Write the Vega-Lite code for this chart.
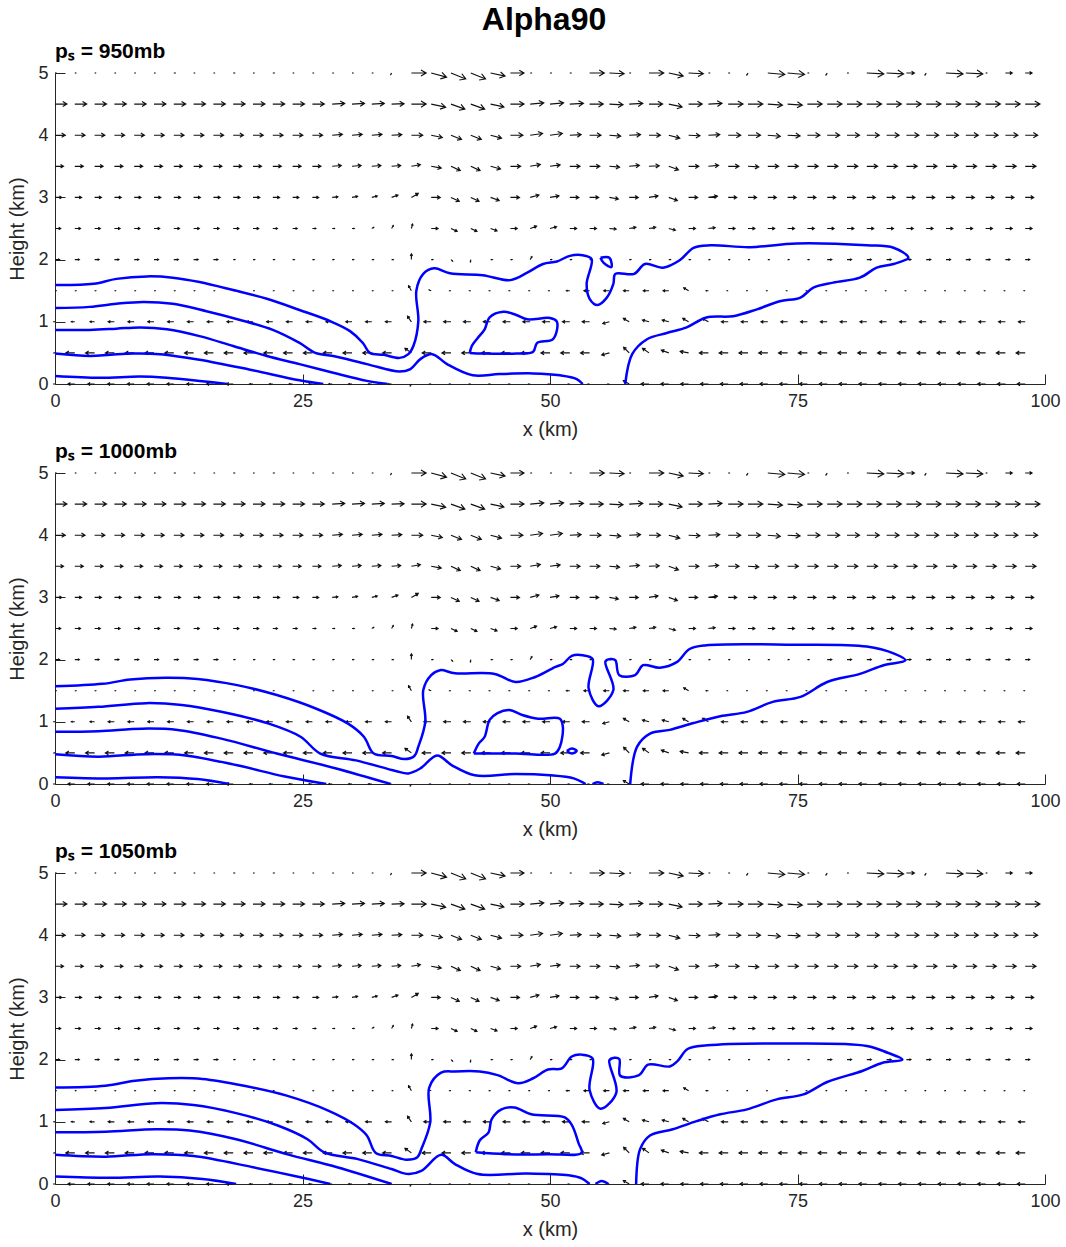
{
"$schema": "https://vega.github.io/schema/vega-lite/v6.json",
"background": "white",
"padding": {"left": 7, "top": 4, "right": 10, "bottom": 4},
"title": {"text": "Alpha90", "fontSize": 32, "fontWeight": "bold", "font": "Liberation Sans", "color": "black", "anchor": "middle", "offset": 4, "dx": 10},
"config": {
  "view": {"stroke": null},
  "font": "Liberation Sans",
  "concat": {"spacing": 2},
  "axis": {"grid": false, "domainColor": "#262626", "tickColor": "#262626", "labelColor": "#262626", "titleColor": "#262626", "labelFont": "Liberation Sans", "titleFont": "Liberation Sans", "labelFontSize": 18, "titleFontSize": 20, "titleFontWeight": "normal", "tickSize": -10, "labelFlush": false, "domainWidth": 1},
  "axisX": {"labelPadding": 18, "titlePadding": 9},
  "axisY": {"labelPadding": 17, "titlePadding": 10},
  "title": {"font": "Liberation Sans", "color": "black"}
},
"datasets": {
"q": [
{"x":0,"z":5,"s":0.8,"d":0},{"x":2,"z":5,"s":0.8,"d":0},{"x":4,"z":5,"s":0.8,"d":0},{"x":6,"z":5,"s":0.8,"d":0},{"x":8,"z":5,"s":0.8,"d":0},{"x":10,"z":5,"s":0.8,"d":0},{"x":12,"z":5,"s":1.2,"d":0},{"x":14,"z":5,"s":0.8,"d":0},{"x":16,"z":5,"s":0.8,"d":0},{"x":18,"z":5,"s":1.2,"d":0},{"x":20,"z":5,"s":0.8,"d":0},{"x":22,"z":5,"s":1.2,"d":0},{"x":24,"z":5,"s":0.8,"d":0},{"x":26,"z":5,"s":0.8,"d":0},{"x":28,"z":5,"s":0.8,"d":0},{"x":30,"z":5,"s":0.8,"d":0},{"x":32,"z":5,"s":0.8,"d":0},{"x":34,"z":5,"s":1.5,"d":120},{"x":36,"z":5,"s":13,"d":0},{"x":38,"z":5,"s":14,"d":15},{"x":40,"z":5,"s":14,"d":22},{"x":42,"z":5,"s":14,"d":22},{"x":44,"z":5,"s":13,"d":12},{"x":46,"z":5,"s":12,"d":0},{"x":48,"z":5,"s":1,"d":0},{"x":50,"z":5,"s":1,"d":0},{"x":52,"z":5,"s":1,"d":0},{"x":54,"z":5,"s":13,"d":0},{"x":56,"z":5,"s":13,"d":3},{"x":58,"z":5,"s":1,"d":0},{"x":60,"z":5,"s":13,"d":0},{"x":62,"z":5,"s":13,"d":12},{"x":64,"z":5,"s":13,"d":3},{"x":66,"z":5,"s":1,"d":0},{"x":68,"z":5,"s":1,"d":0},{"x":70,"z":5,"s":2,"d":120},{"x":72,"z":5,"s":15,"d":5},{"x":74,"z":5,"s":15,"d":5},{"x":76,"z":5,"s":1,"d":0},{"x":78,"z":5,"s":2,"d":120},{"x":80,"z":5,"s":1,"d":0},{"x":82,"z":5,"s":15,"d":3},{"x":84,"z":5,"s":15,"d":3},{"x":86,"z":5,"s":7,"d":0},{"x":88,"z":5,"s":2,"d":120},{"x":90,"z":5,"s":15,"d":3},{"x":92,"z":5,"s":15,"d":3},{"x":94,"z":5,"s":1,"d":0},{"x":96,"z":5,"s":6,"d":0},{"x":98,"z":5,"s":6,"d":0},
{"x":0,"z":4.5,"s":10.5,"d":0},{"x":2,"z":4.5,"s":10.5,"d":0},{"x":4,"z":4.5,"s":10.5,"d":0},{"x":6,"z":4.5,"s":10.5,"d":0},{"x":8,"z":4.5,"s":10.5,"d":0},{"x":10,"z":4.5,"s":10.5,"d":0},{"x":12,"z":4.5,"s":10.5,"d":0},{"x":14,"z":4.5,"s":10.5,"d":0},{"x":16,"z":4.5,"s":10.5,"d":0},{"x":18,"z":4.5,"s":10.5,"d":0},{"x":20,"z":4.5,"s":10.5,"d":0},{"x":22,"z":4.5,"s":10.5,"d":0},{"x":24,"z":4.5,"s":10.5,"d":0},{"x":26,"z":4.5,"s":10.5,"d":0},{"x":28,"z":4.5,"s":11,"d":-3},{"x":30,"z":4.5,"s":11,"d":-3},{"x":32,"z":4.5,"s":11,"d":-3},{"x":34,"z":4.5,"s":11,"d":-2},{"x":36,"z":4.5,"s":13,"d":0},{"x":38,"z":4.5,"s":13,"d":12},{"x":40,"z":4.5,"s":13,"d":20},{"x":42,"z":4.5,"s":13,"d":20},{"x":44,"z":4.5,"s":12,"d":12},{"x":46,"z":4.5,"s":12,"d":0},{"x":48,"z":4.5,"s":12,"d":-5},{"x":50,"z":4.5,"s":12,"d":-5},{"x":52,"z":4.5,"s":12,"d":-3},{"x":54,"z":4.5,"s":12,"d":0},{"x":56,"z":4.5,"s":12,"d":3},{"x":58,"z":4.5,"s":12,"d":-3},{"x":60,"z":4.5,"s":12,"d":0},{"x":62,"z":4.5,"s":12,"d":12},{"x":64,"z":4.5,"s":12,"d":0},{"x":66,"z":4.5,"s":12,"d":-3},{"x":68,"z":4.5,"s":13,"d":0},{"x":70,"z":4.5,"s":13,"d":0},{"x":72,"z":4.5,"s":13,"d":4},{"x":74,"z":4.5,"s":13,"d":4},{"x":76,"z":4.5,"s":13,"d":0},{"x":78,"z":4.5,"s":13,"d":0},{"x":80,"z":4.5,"s":13,"d":0},{"x":82,"z":4.5,"s":13,"d":0},{"x":84,"z":4.5,"s":13,"d":0},{"x":86,"z":4.5,"s":13,"d":0},{"x":88,"z":4.5,"s":13,"d":0},{"x":90,"z":4.5,"s":13,"d":0},{"x":92,"z":4.5,"s":13,"d":0},{"x":94,"z":4.5,"s":13,"d":0},{"x":96,"z":4.5,"s":13,"d":0},{"x":98,"z":4.5,"s":13,"d":0},
{"x":0,"z":4,"s":9,"d":0},{"x":2,"z":4,"s":9,"d":0},{"x":4,"z":4,"s":9,"d":0},{"x":6,"z":4,"s":9,"d":0},{"x":8,"z":4,"s":9,"d":0},{"x":10,"z":4,"s":9,"d":0},{"x":12,"z":4,"s":9,"d":0},{"x":14,"z":4,"s":9,"d":0},{"x":16,"z":4,"s":9,"d":0},{"x":18,"z":4,"s":9,"d":0},{"x":20,"z":4,"s":9,"d":0},{"x":22,"z":4,"s":9,"d":0},{"x":24,"z":4,"s":9,"d":0},{"x":26,"z":4,"s":9,"d":0},{"x":28,"z":4,"s":9,"d":-5},{"x":30,"z":4,"s":9,"d":-5},{"x":32,"z":4,"s":9,"d":-5},{"x":34,"z":4,"s":9,"d":-3},{"x":36,"z":4,"s":10,"d":0},{"x":38,"z":4,"s":10,"d":12},{"x":40,"z":4,"s":10,"d":22},{"x":42,"z":4,"s":10,"d":22},{"x":44,"z":4,"s":10,"d":15},{"x":46,"z":4,"s":11,"d":0},{"x":48,"z":4,"s":11,"d":-8},{"x":50,"z":4,"s":11,"d":-8},{"x":52,"z":4,"s":10,"d":-3},{"x":54,"z":4,"s":10,"d":0},{"x":56,"z":4,"s":10,"d":5},{"x":58,"z":4,"s":10,"d":-3},{"x":60,"z":4,"s":10,"d":0},{"x":62,"z":4,"s":10,"d":15},{"x":64,"z":4,"s":10,"d":3},{"x":66,"z":4,"s":10,"d":-3},{"x":68,"z":4,"s":11,"d":0},{"x":70,"z":4,"s":11,"d":0},{"x":72,"z":4,"s":11,"d":5},{"x":74,"z":4,"s":11,"d":3},{"x":76,"z":4,"s":11,"d":0},{"x":78,"z":4,"s":11,"d":0},{"x":80,"z":4,"s":11,"d":0},{"x":82,"z":4,"s":11,"d":0},{"x":84,"z":4,"s":11,"d":0},{"x":86,"z":4,"s":11,"d":0},{"x":88,"z":4,"s":11,"d":0},{"x":90,"z":4,"s":11,"d":0},{"x":92,"z":4,"s":11,"d":0},{"x":94,"z":4,"s":11,"d":0},{"x":96,"z":4,"s":11,"d":0},{"x":98,"z":4,"s":11,"d":0},
{"x":0,"z":3.5,"s":7.5,"d":0},{"x":2,"z":3.5,"s":7.5,"d":0},{"x":4,"z":3.5,"s":7.5,"d":0},{"x":6,"z":3.5,"s":7.5,"d":0},{"x":8,"z":3.5,"s":7.5,"d":0},{"x":10,"z":3.5,"s":7.5,"d":0},{"x":12,"z":3.5,"s":7.5,"d":0},{"x":14,"z":3.5,"s":7.5,"d":0},{"x":16,"z":3.5,"s":7.5,"d":0},{"x":18,"z":3.5,"s":7.5,"d":0},{"x":20,"z":3.5,"s":7.5,"d":0},{"x":22,"z":3.5,"s":7.5,"d":0},{"x":24,"z":3.5,"s":7.5,"d":0},{"x":26,"z":3.5,"s":7.5,"d":0},{"x":28,"z":3.5,"s":8,"d":-5},{"x":30,"z":3.5,"s":8,"d":-5},{"x":32,"z":3.5,"s":8,"d":-5},{"x":34,"z":3.5,"s":8,"d":-5},{"x":36,"z":3.5,"s":8,"d":-10},{"x":38,"z":3.5,"s":9,"d":10},{"x":40,"z":3.5,"s":9,"d":25},{"x":42,"z":3.5,"s":9,"d":25},{"x":44,"z":3.5,"s":9,"d":15},{"x":46,"z":3.5,"s":9,"d":0},{"x":48,"z":3.5,"s":9,"d":-10},{"x":50,"z":3.5,"s":9,"d":-8},{"x":52,"z":3.5,"s":9,"d":0},{"x":54,"z":3.5,"s":9,"d":0},{"x":56,"z":3.5,"s":9,"d":5},{"x":58,"z":3.5,"s":9,"d":-5},{"x":60,"z":3.5,"s":9,"d":-3},{"x":62,"z":3.5,"s":9,"d":20},{"x":64,"z":3.5,"s":9,"d":0},{"x":66,"z":3.5,"s":9,"d":-5},{"x":68,"z":3.5,"s":9.5,"d":0},{"x":70,"z":3.5,"s":9.5,"d":3},{"x":72,"z":3.5,"s":9.5,"d":0},{"x":74,"z":3.5,"s":9.5,"d":0},{"x":76,"z":3.5,"s":9.5,"d":0},{"x":78,"z":3.5,"s":9.5,"d":0},{"x":80,"z":3.5,"s":9.5,"d":0},{"x":82,"z":3.5,"s":9.5,"d":0},{"x":84,"z":3.5,"s":9.5,"d":0},{"x":86,"z":3.5,"s":9.5,"d":0},{"x":88,"z":3.5,"s":9.5,"d":0},{"x":90,"z":3.5,"s":9.5,"d":0},{"x":92,"z":3.5,"s":9.5,"d":0},{"x":94,"z":3.5,"s":9.5,"d":0},{"x":96,"z":3.5,"s":9.5,"d":0},{"x":98,"z":3.5,"s":9.5,"d":0},
{"x":0,"z":3,"s":6,"d":0},{"x":2,"z":3,"s":6,"d":0},{"x":4,"z":3,"s":6,"d":0},{"x":6,"z":3,"s":6,"d":0},{"x":8,"z":3,"s":6,"d":0},{"x":10,"z":3,"s":6,"d":0},{"x":12,"z":3,"s":6,"d":0},{"x":14,"z":3,"s":6,"d":0},{"x":16,"z":3,"s":6,"d":0},{"x":18,"z":3,"s":6,"d":0},{"x":20,"z":3,"s":6,"d":0},{"x":22,"z":3,"s":6,"d":0},{"x":24,"z":3,"s":5.5,"d":0},{"x":26,"z":3,"s":5.5,"d":0},{"x":28,"z":3,"s":5,"d":-5},{"x":30,"z":3,"s":5,"d":-10},{"x":32,"z":3,"s":5,"d":-15},{"x":34,"z":3,"s":6,"d":-20},{"x":36,"z":3,"s":7,"d":-30},{"x":38,"z":3,"s":8,"d":0},{"x":40,"z":3,"s":8,"d":25},{"x":42,"z":3,"s":8,"d":25},{"x":44,"z":3,"s":8,"d":20},{"x":46,"z":3,"s":8,"d":0},{"x":48,"z":3,"s":8,"d":-15},{"x":50,"z":3,"s":8,"d":-10},{"x":52,"z":3,"s":8,"d":0},{"x":54,"z":3,"s":8,"d":0},{"x":56,"z":3,"s":8,"d":10},{"x":58,"z":3,"s":8,"d":0},{"x":60,"z":3,"s":8,"d":-10},{"x":62,"z":3,"s":8,"d":20},{"x":64,"z":3,"s":8,"d":0},{"x":66,"z":3,"s":8,"d":-8},{"x":68,"z":3,"s":7.5,"d":0},{"x":70,"z":3,"s":7.5,"d":0},{"x":72,"z":3,"s":7.5,"d":0},{"x":74,"z":3,"s":7.5,"d":0},{"x":76,"z":3,"s":7.5,"d":0},{"x":78,"z":3,"s":7.5,"d":0},{"x":80,"z":3,"s":7.5,"d":0},{"x":82,"z":3,"s":7.5,"d":0},{"x":84,"z":3,"s":7.5,"d":0},{"x":86,"z":3,"s":7.5,"d":0},{"x":88,"z":3,"s":7.5,"d":0},{"x":90,"z":3,"s":7.5,"d":0},{"x":92,"z":3,"s":7.5,"d":0},{"x":94,"z":3,"s":7.5,"d":0},{"x":96,"z":3,"s":7.5,"d":0},{"x":98,"z":3,"s":7.5,"d":0},
{"x":0,"z":2.5,"s":5,"d":0},{"x":2,"z":2.5,"s":5,"d":0},{"x":4,"z":2.5,"s":5,"d":0},{"x":6,"z":2.5,"s":5,"d":0},{"x":8,"z":2.5,"s":5,"d":0},{"x":10,"z":2.5,"s":5,"d":0},{"x":12,"z":2.5,"s":5,"d":0},{"x":14,"z":2.5,"s":5,"d":0},{"x":16,"z":2.5,"s":5,"d":0},{"x":18,"z":2.5,"s":5,"d":0},{"x":20,"z":2.5,"s":5,"d":0},{"x":22,"z":2.5,"s":4,"d":0},{"x":24,"z":2.5,"s":4,"d":0},{"x":26,"z":2.5,"s":3,"d":0},{"x":28,"z":2.5,"s":2,"d":0},{"x":30,"z":2.5,"s":2,"d":0},{"x":32,"z":2.5,"s":2,"d":-30},{"x":34,"z":2.5,"s":3,"d":-60},{"x":36,"z":2.5,"s":4,"d":-75},{"x":38,"z":2.5,"s":6,"d":0},{"x":40,"z":2.5,"s":6,"d":25},{"x":42,"z":2.5,"s":6,"d":25},{"x":44,"z":2.5,"s":6,"d":20},{"x":46,"z":2.5,"s":6,"d":0},{"x":48,"z":2.5,"s":6,"d":-20},{"x":50,"z":2.5,"s":6,"d":-15},{"x":52,"z":2.5,"s":6,"d":0},{"x":54,"z":2.5,"s":6,"d":0},{"x":56,"z":2.5,"s":6,"d":5},{"x":58,"z":2.5,"s":6,"d":-10},{"x":60,"z":2.5,"s":6,"d":-10},{"x":62,"z":2.5,"s":6,"d":15},{"x":64,"z":2.5,"s":6,"d":0},{"x":66,"z":2.5,"s":6,"d":-8},{"x":68,"z":2.5,"s":6,"d":0},{"x":70,"z":2.5,"s":6,"d":0},{"x":72,"z":2.5,"s":6,"d":0},{"x":74,"z":2.5,"s":6,"d":0},{"x":76,"z":2.5,"s":6,"d":0},{"x":78,"z":2.5,"s":6,"d":0},{"x":80,"z":2.5,"s":6,"d":0},{"x":82,"z":2.5,"s":6,"d":0},{"x":84,"z":2.5,"s":6,"d":0},{"x":86,"z":2.5,"s":6,"d":0},{"x":88,"z":2.5,"s":6,"d":0},{"x":90,"z":2.5,"s":6,"d":0},{"x":92,"z":2.5,"s":6,"d":0},{"x":94,"z":2.5,"s":6,"d":0},{"x":96,"z":2.5,"s":6,"d":0},{"x":98,"z":2.5,"s":6,"d":0},
{"x":0,"z":2,"s":4,"d":0},{"x":2,"z":2,"s":4,"d":0},{"x":4,"z":2,"s":4,"d":0},{"x":6,"z":2,"s":4,"d":0},{"x":8,"z":2,"s":4,"d":0},{"x":10,"z":2,"s":4,"d":0},{"x":12,"z":2,"s":4,"d":0},{"x":14,"z":2,"s":4,"d":0},{"x":16,"z":2,"s":4,"d":0},{"x":18,"z":2,"s":1.5,"d":0},{"x":20,"z":2,"s":1.5,"d":0},{"x":22,"z":2,"s":1.5,"d":0},{"x":24,"z":2,"s":1.5,"d":0},{"x":26,"z":2,"s":1.5,"d":0},{"x":28,"z":2,"s":1.5,"d":0},{"x":30,"z":2,"s":1.5,"d":0},{"x":32,"z":2,"s":1.5,"d":0},{"x":34,"z":2,"s":1.5,"d":0},{"x":36,"z":2,"s":5,"d":-90},{"x":38,"z":2,"s":1.5,"d":0},{"x":40,"z":2,"s":2,"d":45},{"x":42,"z":2,"s":2,"d":100},{"x":44,"z":2,"s":1.5,"d":0},{"x":46,"z":2,"s":1.5,"d":0},{"x":48,"z":2,"s":3,"d":-60},{"x":50,"z":2,"s":1.5,"d":0},{"x":52,"z":2,"s":1.5,"d":0},{"x":54,"z":2,"s":1.5,"d":0},{"x":56,"z":2,"s":1.5,"d":0},{"x":58,"z":2,"s":1.5,"d":0},{"x":60,"z":2,"s":1.5,"d":0},{"x":62,"z":2,"s":1.5,"d":0},{"x":64,"z":2,"s":1.5,"d":0},{"x":66,"z":2,"s":1.2,"d":0},{"x":68,"z":2,"s":1.2,"d":0},{"x":70,"z":2,"s":1.2,"d":0},{"x":72,"z":2,"s":1.2,"d":0},{"x":74,"z":2,"s":1.2,"d":0},{"x":76,"z":2,"s":1.5,"d":0},{"x":78,"z":2,"s":4,"d":0},{"x":80,"z":2,"s":4,"d":0},{"x":82,"z":2,"s":4,"d":0},{"x":84,"z":2,"s":4,"d":0},{"x":86,"z":2,"s":4,"d":0},{"x":88,"z":2,"s":4,"d":0},{"x":90,"z":2,"s":4,"d":0},{"x":92,"z":2,"s":4,"d":0},{"x":94,"z":2,"s":4,"d":0},{"x":96,"z":2,"s":4,"d":0},{"x":98,"z":2,"s":4,"d":0},
{"x":0,"z":1.5,"s":1,"d":0},{"x":2,"z":1.5,"s":1,"d":0},{"x":4,"z":1.5,"s":1,"d":0},{"x":6,"z":1.5,"s":1,"d":0},{"x":8,"z":1.5,"s":1,"d":0},{"x":10,"z":1.5,"s":1,"d":0},{"x":12,"z":1.5,"s":1,"d":0},{"x":14,"z":1.5,"s":1,"d":0},{"x":16,"z":1.5,"s":1,"d":0},{"x":18,"z":1.5,"s":1,"d":0},{"x":20,"z":1.5,"s":1,"d":0},{"x":22,"z":1.5,"s":1,"d":0},{"x":24,"z":1.5,"s":1,"d":0},{"x":26,"z":1.5,"s":1,"d":0},{"x":28,"z":1.5,"s":1,"d":0},{"x":30,"z":1.5,"s":1,"d":0},{"x":32,"z":1.5,"s":1,"d":0},{"x":34,"z":1.5,"s":1,"d":0},{"x":36,"z":1.5,"s":5,"d":240},{"x":38,"z":1.5,"s":2,"d":200},{"x":40,"z":1.5,"s":1.2,"d":180},{"x":42,"z":1.5,"s":1.2,"d":180},{"x":44,"z":1.5,"s":1.2,"d":180},{"x":46,"z":1.5,"s":1.2,"d":180},{"x":48,"z":1.5,"s":1.2,"d":180},{"x":50,"z":1.5,"s":1.2,"d":180},{"x":52,"z":1.5,"s":3,"d":180},{"x":54,"z":1.5,"s":5,"d":180},{"x":56,"z":1.5,"s":5,"d":180},{"x":58,"z":1.5,"s":5,"d":180},{"x":60,"z":1.5,"s":5,"d":180},{"x":62,"z":1.5,"s":5,"d":180},{"x":64,"z":1.5,"s":5,"d":210},{"x":66,"z":1.5,"s":2,"d":180},{"x":68,"z":1.5,"s":1,"d":180},{"x":70,"z":1.5,"s":1,"d":180},{"x":72,"z":1.5,"s":1,"d":180},{"x":74,"z":1.5,"s":1,"d":180},{"x":76,"z":1.5,"s":1,"d":180},{"x":78,"z":1.5,"s":1,"d":180},{"x":80,"z":1.5,"s":1,"d":180},{"x":82,"z":1.5,"s":1,"d":180},{"x":84,"z":1.5,"s":1,"d":180},{"x":86,"z":1.5,"s":1,"d":180},{"x":88,"z":1.5,"s":1,"d":180},{"x":90,"z":1.5,"s":1,"d":180},{"x":92,"z":1.5,"s":1,"d":180},{"x":94,"z":1.5,"s":1,"d":180},{"x":96,"z":1.5,"s":1,"d":180},{"x":98,"z":1.5,"s":1,"d":180},
{"x":0,"z":1,"s":1,"d":180},{"x":2,"z":1,"s":3,"d":180},{"x":4,"z":1,"s":4,"d":180},{"x":6,"z":1,"s":5.5,"d":180},{"x":8,"z":1,"s":5.5,"d":180},{"x":10,"z":1,"s":5.5,"d":180},{"x":12,"z":1,"s":5.5,"d":180},{"x":14,"z":1,"s":5.5,"d":180},{"x":16,"z":1,"s":5.5,"d":180},{"x":18,"z":1,"s":5.5,"d":180},{"x":20,"z":1,"s":5.5,"d":180},{"x":22,"z":1,"s":5.5,"d":180},{"x":24,"z":1,"s":5.5,"d":180},{"x":26,"z":1,"s":5.5,"d":180},{"x":28,"z":1,"s":5.5,"d":180},{"x":30,"z":1,"s":5.5,"d":180},{"x":32,"z":1,"s":5.5,"d":180},{"x":34,"z":1,"s":5.5,"d":180},{"x":36,"z":1,"s":6,"d":235},{"x":38,"z":1,"s":6.5,"d":180},{"x":40,"z":1,"s":6.5,"d":180},{"x":42,"z":1,"s":6.5,"d":180},{"x":44,"z":1,"s":6.5,"d":180},{"x":46,"z":1,"s":6.5,"d":180},{"x":48,"z":1,"s":6.5,"d":180},{"x":50,"z":1,"s":6.5,"d":180},{"x":52,"z":1,"s":6.5,"d":180},{"x":54,"z":1,"s":6.5,"d":180},{"x":56,"z":1,"s":6,"d":165},{"x":58,"z":1,"s":6,"d":210},{"x":60,"z":1,"s":6,"d":195},{"x":62,"z":1,"s":6,"d":195},{"x":64,"z":1,"s":6,"d":210},{"x":66,"z":1,"s":6,"d":210},{"x":68,"z":1,"s":6,"d":180},{"x":70,"z":1,"s":6,"d":180},{"x":72,"z":1,"s":6,"d":180},{"x":74,"z":1,"s":6,"d":180},{"x":76,"z":1,"s":6,"d":180},{"x":78,"z":1,"s":6,"d":180},{"x":80,"z":1,"s":6,"d":180},{"x":82,"z":1,"s":6,"d":180},{"x":84,"z":1,"s":6,"d":180},{"x":86,"z":1,"s":6,"d":180},{"x":88,"z":1,"s":6,"d":180},{"x":90,"z":1,"s":6,"d":180},{"x":92,"z":1,"s":6,"d":180},{"x":94,"z":1,"s":6,"d":180},{"x":96,"z":1,"s":6,"d":180},{"x":98,"z":1,"s":6,"d":180},
{"x":0,"z":0.5,"s":1,"d":180},{"x":2,"z":0.5,"s":8,"d":180},{"x":4,"z":0.5,"s":8,"d":180},{"x":6,"z":0.5,"s":8,"d":180},{"x":8,"z":0.5,"s":8,"d":180},{"x":10,"z":0.5,"s":8,"d":180},{"x":12,"z":0.5,"s":8,"d":180},{"x":14,"z":0.5,"s":8,"d":180},{"x":16,"z":0.5,"s":8,"d":180},{"x":18,"z":0.5,"s":8,"d":180},{"x":20,"z":0.5,"s":8,"d":180},{"x":22,"z":0.5,"s":8,"d":180},{"x":24,"z":0.5,"s":8,"d":180},{"x":26,"z":0.5,"s":8,"d":180},{"x":28,"z":0.5,"s":8,"d":180},{"x":30,"z":0.5,"s":8,"d":180},{"x":32,"z":0.5,"s":8,"d":180},{"x":34,"z":0.5,"s":8,"d":180},{"x":36,"z":0.5,"s":7,"d":215},{"x":38,"z":0.5,"s":8,"d":180},{"x":40,"z":0.5,"s":8,"d":180},{"x":42,"z":0.5,"s":8,"d":180},{"x":44,"z":0.5,"s":8,"d":180},{"x":46,"z":0.5,"s":8,"d":180},{"x":48,"z":0.5,"s":8,"d":180},{"x":50,"z":0.5,"s":8,"d":180},{"x":52,"z":0.5,"s":8,"d":180},{"x":54,"z":0.5,"s":8,"d":180},{"x":56,"z":0.5,"s":7,"d":165},{"x":58,"z":0.5,"s":7,"d":225},{"x":60,"z":0.5,"s":7,"d":215},{"x":62,"z":0.5,"s":7,"d":200},{"x":64,"z":0.5,"s":7.5,"d":190},{"x":66,"z":0.5,"s":8,"d":180},{"x":68,"z":0.5,"s":8,"d":180},{"x":70,"z":0.5,"s":8,"d":180},{"x":72,"z":0.5,"s":8,"d":180},{"x":74,"z":0.5,"s":8,"d":180},{"x":76,"z":0.5,"s":8,"d":180},{"x":78,"z":0.5,"s":8,"d":180},{"x":80,"z":0.5,"s":8,"d":180},{"x":82,"z":0.5,"s":8,"d":180},{"x":84,"z":0.5,"s":8,"d":180},{"x":86,"z":0.5,"s":8,"d":180},{"x":88,"z":0.5,"s":8,"d":180},{"x":90,"z":0.5,"s":8,"d":180},{"x":92,"z":0.5,"s":8,"d":180},{"x":94,"z":0.5,"s":8,"d":180},{"x":96,"z":0.5,"s":8,"d":180},{"x":98,"z":0.5,"s":8,"d":180},
{"x":0,"z":0,"s":1,"d":180},{"x":2,"z":0,"s":6,"d":180},{"x":4,"z":0,"s":6,"d":180},{"x":6,"z":0,"s":6,"d":180},{"x":8,"z":0,"s":6,"d":180},{"x":10,"z":0,"s":6,"d":180},{"x":12,"z":0,"s":6,"d":180},{"x":14,"z":0,"s":6,"d":180},{"x":16,"z":0,"s":6,"d":180},{"x":18,"z":0,"s":6,"d":180},{"x":20,"z":0,"s":3,"d":180},{"x":22,"z":0,"s":3,"d":180},{"x":24,"z":0,"s":3,"d":180},{"x":26,"z":0,"s":3,"d":180},{"x":28,"z":0,"s":3,"d":180},{"x":30,"z":0,"s":3,"d":180},{"x":32,"z":0,"s":3,"d":180},{"x":34,"z":0,"s":3,"d":180},{"x":36,"z":0,"s":2,"d":120},{"x":38,"z":0,"s":1.5,"d":180},{"x":40,"z":0,"s":1.5,"d":180},{"x":42,"z":0,"s":1.5,"d":180},{"x":44,"z":0,"s":1.5,"d":180},{"x":46,"z":0,"s":1.5,"d":180},{"x":48,"z":0,"s":1.5,"d":180},{"x":50,"z":0,"s":1.5,"d":180},{"x":52,"z":0,"s":1.5,"d":180},{"x":54,"z":0,"s":1.5,"d":180},{"x":56,"z":0,"s":1.5,"d":180},{"x":58,"z":0,"s":6,"d":210},{"x":60,"z":0,"s":7,"d":180},{"x":62,"z":0,"s":7,"d":180},{"x":64,"z":0,"s":7,"d":180},{"x":66,"z":0,"s":7,"d":180},{"x":68,"z":0,"s":7,"d":180},{"x":70,"z":0,"s":7,"d":180},{"x":72,"z":0,"s":7,"d":180},{"x":74,"z":0,"s":7,"d":180},{"x":76,"z":0,"s":7,"d":180},{"x":78,"z":0,"s":7,"d":180},{"x":80,"z":0,"s":7,"d":180},{"x":82,"z":0,"s":7,"d":180},{"x":84,"z":0,"s":7,"d":180},{"x":86,"z":0,"s":7,"d":180},{"x":88,"z":0,"s":7,"d":180},{"x":90,"z":0,"s":7,"d":180},{"x":92,"z":0,"s":7,"d":180},{"x":94,"z":0,"s":7,"d":180},{"x":96,"z":0,"s":7,"d":180},{"x":98,"z":0,"s":7,"d":180}
],
"c": [
{"p":1,"c":"A","x":0,"z":1.59},{"p":1,"c":"A","x":3.9,"z":1.61},{"p":1,"c":"A","x":6.2,"z":1.69},{"p":1,"c":"A","x":9.3,"z":1.73},{"p":1,"c":"A","x":11.9,"z":1.71},{"p":1,"c":"A","x":14.6,"z":1.64},{"p":1,"c":"A","x":18,"z":1.51},{"p":1,"c":"A","x":21.4,"z":1.37},{"p":1,"c":"A","x":24.7,"z":1.19},{"p":1,"c":"A","x":27.8,"z":1.01},{"p":1,"c":"A","x":29.8,"z":0.85},{"p":1,"c":"A","x":31.1,"z":0.66},{"p":1,"c":"A","x":31.8,"z":0.5},{"p":1,"c":"A","x":33.2,"z":0.47},{"p":1,"c":"A","x":34.8,"z":0.42},{"p":1,"c":"A","x":35.7,"z":0.48},{"p":1,"c":"A","x":36.2,"z":0.61},{"p":1,"c":"A","x":36.7,"z":1.01},{"p":1,"c":"A","x":36.5,"z":1.5},{"p":1,"c":"A","x":37.2,"z":1.77},{"p":1,"c":"A","x":38.3,"z":1.86},{"p":1,"c":"A","x":39.9,"z":1.78},{"p":1,"c":"A","x":43.2,"z":1.75},{"p":1,"c":"A","x":46,"z":1.67},{"p":1,"c":"A","x":47.7,"z":1.79},{"p":1,"c":"A","x":49.3,"z":1.93},{"p":1,"c":"A","x":50.7,"z":1.97},{"p":1,"c":"A","x":52,"z":2.06},{"p":1,"c":"A","x":53.3,"z":2.07},{"p":1,"c":"A","x":54.2,"z":2.01},{"p":1,"c":"A","x":53.7,"z":1.61},{"p":1,"c":"A","x":54,"z":1.37},{"p":1,"c":"A","x":54.8,"z":1.27},{"p":1,"c":"A","x":55.7,"z":1.38},{"p":1,"c":"A","x":56.4,"z":1.61},{"p":1,"c":"A","x":56.6,"z":1.77},{"p":1,"c":"A","x":58.5,"z":1.77},{"p":1,"c":"A","x":59.6,"z":1.93},{"p":1,"c":"A","x":61.4,"z":1.87},{"p":1,"c":"A","x":63.1,"z":1.99},{"p":1,"c":"A","x":64.5,"z":2.19},{"p":1,"c":"A","x":66.2,"z":2.23},{"p":1,"c":"A","x":70.2,"z":2.2},{"p":1,"c":"A","x":74.9,"z":2.26},{"p":1,"c":"A","x":82,"z":2.23},{"p":1,"c":"A","x":84.7,"z":2.19},{"p":1,"c":"A","x":86.2,"z":2.03},{"p":1,"c":"A","x":84.7,"z":1.93},{"p":1,"c":"A","x":83,"z":1.87},{"p":1,"c":"A","x":81.3,"z":1.71},{"p":1,"c":"A","x":78.6,"z":1.63},{"p":1,"c":"A","x":76.6,"z":1.55},{"p":1,"c":"A","x":75.3,"z":1.39},{"p":1,"c":"A","x":73.2,"z":1.33},{"p":1,"c":"A","x":70.9,"z":1.2},{"p":1,"c":"A","x":68.5,"z":1.09},{"p":1,"c":"A","x":65.8,"z":1.07},{"p":1,"c":"A","x":63.8,"z":0.91},{"p":1,"c":"A","x":61.8,"z":0.82},{"p":1,"c":"A","x":59.8,"z":0.72},{"p":1,"c":"A","x":58.3,"z":0.48},{"p":1,"c":"A","x":57.6,"z":0},
{"p":1,"c":"B","x":0,"z":1.22},{"p":1,"c":"B","x":3.5,"z":1.24},{"p":1,"c":"B","x":6.2,"z":1.29},{"p":1,"c":"B","x":8.9,"z":1.32},{"p":1,"c":"B","x":11.9,"z":1.29},{"p":1,"c":"B","x":15.3,"z":1.17},{"p":1,"c":"B","x":18.7,"z":1.03},{"p":1,"c":"B","x":22,"z":0.87},{"p":1,"c":"B","x":24.7,"z":0.66},{"p":1,"c":"B","x":26.3,"z":0.5},{"p":1,"c":"B","x":28.1,"z":0.45},{"p":1,"c":"B","x":31.5,"z":0.32},{"p":1,"c":"B","x":34.8,"z":0.2},{"p":1,"c":"B","x":35.9,"z":0.24},{"p":1,"c":"B","x":36.9,"z":0.4},{"p":1,"c":"B","x":38.1,"z":0.48},{"p":1,"c":"B","x":39.6,"z":0.32},{"p":1,"c":"B","x":42.2,"z":0.14},{"p":1,"c":"B","x":44.9,"z":0.16},{"p":1,"c":"B","x":48.3,"z":0.17},{"p":1,"c":"B","x":51,"z":0.14},{"p":1,"c":"B","x":52.7,"z":0.08},{"p":1,"c":"B","x":53.3,"z":0},
{"p":1,"c":"C","x":0,"z":0.87},{"p":1,"c":"C","x":3.5,"z":0.87},{"p":1,"c":"C","x":6.2,"z":0.89},{"p":1,"c":"C","x":8.6,"z":0.91},{"p":1,"c":"C","x":11.3,"z":0.88},{"p":1,"c":"C","x":14.6,"z":0.77},{"p":1,"c":"C","x":18,"z":0.61},{"p":1,"c":"C","x":21.4,"z":0.45},{"p":1,"c":"C","x":24.7,"z":0.32},{"p":1,"c":"C","x":28.1,"z":0.18},{"p":1,"c":"C","x":31.5,"z":0.05},{"p":1,"c":"C","x":33.6,"z":0},
{"p":1,"c":"D","x":0,"z":0.49},{"p":1,"c":"D","x":3.5,"z":0.45},{"p":1,"c":"D","x":5.6,"z":0.47},{"p":1,"c":"D","x":7.9,"z":0.49},{"p":1,"c":"D","x":10.6,"z":0.48},{"p":1,"c":"D","x":14.6,"z":0.39},{"p":1,"c":"D","x":19.7,"z":0.23},{"p":1,"c":"D","x":24.7,"z":0.06},{"p":1,"c":"D","x":27.1,"z":0},
{"p":1,"c":"E","x":0,"z":0.13},{"p":1,"c":"E","x":4.5,"z":0.1},{"p":1,"c":"E","x":8.6,"z":0.12},{"p":1,"c":"E","x":11.3,"z":0.1},{"p":1,"c":"E","x":14.6,"z":0.05},{"p":1,"c":"E","x":17.4,"z":0},
{"p":1,"c":"F","x":41.9,"z":0.5},{"p":1,"c":"F","x":42.1,"z":0.61},{"p":1,"c":"F","x":42.7,"z":0.74},{"p":1,"c":"F","x":43.4,"z":0.88},{"p":1,"c":"F","x":43.9,"z":1.07},{"p":1,"c":"F","x":45.3,"z":1.16},{"p":1,"c":"F","x":46.6,"z":1.11},{"p":1,"c":"F","x":47.7,"z":1.04},{"p":1,"c":"F","x":50,"z":1.06},{"p":1,"c":"F","x":50.7,"z":1},{"p":1,"c":"F","x":50.3,"z":0.72},{"p":1,"c":"F","x":48.7,"z":0.66},{"p":1,"c":"F","x":48.3,"z":0.52},{"p":1,"c":"F","x":46.6,"z":0.49},{"p":1,"c":"F","x":43.2,"z":0.49},{"p":1,"c":"F","x":41.9,"z":0.5},
{"p":1,"c":"G","x":55.1,"z":2.03},{"p":1,"c":"G","x":56,"z":2.03},{"p":1,"c":"G","x":56.2,"z":1.88},{"p":1,"c":"G","x":55.4,"z":1.95},{"p":1,"c":"G","x":55.1,"z":2.03},
{"p":2,"c":"A","x":0,"z":1.57},{"p":2,"c":"A","x":4.8,"z":1.61},{"p":2,"c":"A","x":7.6,"z":1.68},{"p":2,"c":"A","x":11.2,"z":1.71},{"p":2,"c":"A","x":14.4,"z":1.69},{"p":2,"c":"A","x":18.4,"z":1.59},{"p":2,"c":"A","x":22.4,"z":1.43},{"p":2,"c":"A","x":26.4,"z":1.21},{"p":2,"c":"A","x":29.6,"z":0.97},{"p":2,"c":"A","x":31.2,"z":0.76},{"p":2,"c":"A","x":32.2,"z":0.49},{"p":2,"c":"A","x":34,"z":0.45},{"p":2,"c":"A","x":35.3,"z":0.4},{"p":2,"c":"A","x":36.3,"z":0.45},{"p":2,"c":"A","x":36.7,"z":0.6},{"p":2,"c":"A","x":37.4,"z":1},{"p":2,"c":"A","x":37.2,"z":1.51},{"p":2,"c":"A","x":38,"z":1.75},{"p":2,"c":"A","x":38.9,"z":1.83},{"p":2,"c":"A","x":40.4,"z":1.78},{"p":2,"c":"A","x":44.4,"z":1.77},{"p":2,"c":"A","x":46.5,"z":1.64},{"p":2,"c":"A","x":48.5,"z":1.72},{"p":2,"c":"A","x":50.5,"z":1.88},{"p":2,"c":"A","x":51.3,"z":1.93},{"p":2,"c":"A","x":52.2,"z":2.06},{"p":2,"c":"A","x":53.3,"z":2.07},{"p":2,"c":"A","x":54.3,"z":2.01},{"p":2,"c":"A","x":53.9,"z":1.54},{"p":2,"c":"A","x":54.9,"z":1.25},{"p":2,"c":"A","x":56.4,"z":1.51},{"p":2,"c":"A","x":55.6,"z":1.97},{"p":2,"c":"A","x":56.1,"z":2.01},{"p":2,"c":"A","x":56.6,"z":1.99},{"p":2,"c":"A","x":57,"z":1.75},{"p":2,"c":"A","x":58.6,"z":1.75},{"p":2,"c":"A","x":59.4,"z":1.91},{"p":2,"c":"A","x":61.1,"z":1.87},{"p":2,"c":"A","x":62.8,"z":1.96},{"p":2,"c":"A","x":64.1,"z":2.17},{"p":2,"c":"A","x":65.8,"z":2.23},{"p":2,"c":"A","x":74.6,"z":2.24},{"p":2,"c":"A","x":82,"z":2.21},{"p":2,"c":"A","x":84.7,"z":2.1},{"p":2,"c":"A","x":85.9,"z":1.99},{"p":2,"c":"A","x":83.7,"z":1.91},{"p":2,"c":"A","x":81.3,"z":1.77},{"p":2,"c":"A","x":78,"z":1.64},{"p":2,"c":"A","x":75.3,"z":1.4},{"p":2,"c":"A","x":72.5,"z":1.32},{"p":2,"c":"A","x":69.9,"z":1.16},{"p":2,"c":"A","x":67.2,"z":1.09},{"p":2,"c":"A","x":64.5,"z":0.98},{"p":2,"c":"A","x":62.1,"z":0.87},{"p":2,"c":"A","x":60.1,"z":0.81},{"p":2,"c":"A","x":58.8,"z":0.6},{"p":2,"c":"A","x":58.1,"z":0},
{"p":2,"c":"B","x":0,"z":1.21},{"p":2,"c":"B","x":4.4,"z":1.24},{"p":2,"c":"B","x":9.2,"z":1.3},{"p":2,"c":"B","x":12.8,"z":1.27},{"p":2,"c":"B","x":16.8,"z":1.16},{"p":2,"c":"B","x":21.6,"z":0.97},{"p":2,"c":"B","x":24.8,"z":0.76},{"p":2,"c":"B","x":26.8,"z":0.49},{"p":2,"c":"B","x":30.4,"z":0.38},{"p":2,"c":"B","x":34.4,"z":0.21},{"p":2,"c":"B","x":35.7,"z":0.17},{"p":2,"c":"B","x":36.9,"z":0.25},{"p":2,"c":"B","x":38.6,"z":0.46},{"p":2,"c":"B","x":40.1,"z":0.3},{"p":2,"c":"B","x":42.4,"z":0.14},{"p":2,"c":"B","x":46.5,"z":0.16},{"p":2,"c":"B","x":50,"z":0.14},{"p":2,"c":"B","x":52.4,"z":0.09},{"p":2,"c":"B","x":53.6,"z":0},
{"p":2,"c":"C","x":0,"z":0.84},{"p":2,"c":"C","x":4.4,"z":0.85},{"p":2,"c":"C","x":8.8,"z":0.89},{"p":2,"c":"C","x":12.4,"z":0.87},{"p":2,"c":"C","x":16.8,"z":0.73},{"p":2,"c":"C","x":22.4,"z":0.49},{"p":2,"c":"C","x":28.4,"z":0.25},{"p":2,"c":"C","x":33.9,"z":0},
{"p":2,"c":"D","x":0,"z":0.48},{"p":2,"c":"D","x":4.4,"z":0.44},{"p":2,"c":"D","x":9.2,"z":0.48},{"p":2,"c":"D","x":13.2,"z":0.46},{"p":2,"c":"D","x":18.4,"z":0.3},{"p":2,"c":"D","x":23.2,"z":0.12},{"p":2,"c":"D","x":27.4,"z":0},
{"p":2,"c":"E","x":0,"z":0.11},{"p":2,"c":"E","x":5.3,"z":0.09},{"p":2,"c":"E","x":10.4,"z":0.11},{"p":2,"c":"E","x":14.4,"z":0.08},{"p":2,"c":"E","x":17.6,"z":0},
{"p":2,"c":"F","x":42.3,"z":0.49},{"p":2,"c":"F","x":42.8,"z":0.65},{"p":2,"c":"F","x":43.4,"z":0.76},{"p":2,"c":"F","x":43.9,"z":1.03},{"p":2,"c":"F","x":44.7,"z":1.14},{"p":2,"c":"F","x":45.9,"z":1.19},{"p":2,"c":"F","x":47.2,"z":1.11},{"p":2,"c":"F","x":48.8,"z":1.05},{"p":2,"c":"F","x":51,"z":1.05},{"p":2,"c":"F","x":51.3,"z":0.92},{"p":2,"c":"F","x":51,"z":0.6},{"p":2,"c":"F","x":50.5,"z":0.49},{"p":2,"c":"F","x":46.5,"z":0.49},{"p":2,"c":"F","x":42.3,"z":0.49},
{"p":2,"c":"H","x":51.7,"z":0.53},{"p":2,"c":"H","x":52.2,"z":0.57},{"p":2,"c":"H","x":52.7,"z":0.53},{"p":2,"c":"H","x":52.2,"z":0.49},{"p":2,"c":"H","x":51.7,"z":0.53},
{"p":2,"c":"I","x":54.3,"z":0},{"p":2,"c":"I","x":54.8,"z":0.03},{"p":2,"c":"I","x":55.4,"z":0},
{"p":3,"c":"A","x":0,"z":1.55},{"p":3,"c":"A","x":5.1,"z":1.58},{"p":3,"c":"A","x":8.1,"z":1.66},{"p":3,"c":"A","x":11.5,"z":1.7},{"p":3,"c":"A","x":14.9,"z":1.69},{"p":3,"c":"A","x":19.1,"z":1.58},{"p":3,"c":"A","x":23.4,"z":1.42},{"p":3,"c":"A","x":27.6,"z":1.18},{"p":3,"c":"A","x":30.2,"z":0.96},{"p":3,"c":"A","x":31.5,"z":0.78},{"p":3,"c":"A","x":32.4,"z":0.5},{"p":3,"c":"A","x":34,"z":0.45},{"p":3,"c":"A","x":35.5,"z":0.39},{"p":3,"c":"A","x":36.6,"z":0.43},{"p":3,"c":"A","x":37,"z":0.56},{"p":3,"c":"A","x":37.9,"z":0.99},{"p":3,"c":"A","x":37.8,"z":1.55},{"p":3,"c":"A","x":39,"z":1.79},{"p":3,"c":"A","x":40.4,"z":1.81},{"p":3,"c":"A","x":42.9,"z":1.81},{"p":3,"c":"A","x":44.7,"z":1.75},{"p":3,"c":"A","x":46.8,"z":1.62},{"p":3,"c":"A","x":48.3,"z":1.7},{"p":3,"c":"A","x":49.8,"z":1.84},{"p":3,"c":"A","x":51.2,"z":1.86},{"p":3,"c":"A","x":52.2,"z":2.05},{"p":3,"c":"A","x":53.2,"z":2.08},{"p":3,"c":"A","x":54.3,"z":2.02},{"p":3,"c":"A","x":54,"z":1.51},{"p":3,"c":"A","x":55.1,"z":1.21},{"p":3,"c":"A","x":56.7,"z":1.47},{"p":3,"c":"A","x":56,"z":1.99},{"p":3,"c":"A","x":56.5,"z":2.03},{"p":3,"c":"A","x":57,"z":2.01},{"p":3,"c":"A","x":57.1,"z":1.74},{"p":3,"c":"A","x":59,"z":1.75},{"p":3,"c":"A","x":59.9,"z":1.92},{"p":3,"c":"A","x":62.1,"z":1.89},{"p":3,"c":"A","x":62.9,"z":1.98},{"p":3,"c":"A","x":63.9,"z":2.17},{"p":3,"c":"A","x":65.9,"z":2.23},{"p":3,"c":"A","x":74.5,"z":2.26},{"p":3,"c":"A","x":82,"z":2.22},{"p":3,"c":"A","x":84.1,"z":2.11},{"p":3,"c":"A","x":85.6,"z":2},{"p":3,"c":"A","x":83.6,"z":1.95},{"p":3,"c":"A","x":81.6,"z":1.82},{"p":3,"c":"A","x":78,"z":1.64},{"p":3,"c":"A","x":75.6,"z":1.44},{"p":3,"c":"A","x":72.9,"z":1.36},{"p":3,"c":"A","x":69.9,"z":1.2},{"p":3,"c":"A","x":67.2,"z":1.12},{"p":3,"c":"A","x":64.8,"z":1.01},{"p":3,"c":"A","x":62.4,"z":0.88},{"p":3,"c":"A","x":60.1,"z":0.78},{"p":3,"c":"A","x":59.1,"z":0.56},{"p":3,"c":"A","x":58.7,"z":0},
{"p":3,"c":"B","x":0,"z":1.19},{"p":3,"c":"B","x":5.1,"z":1.22},{"p":3,"c":"B","x":10.2,"z":1.3},{"p":3,"c":"B","x":14,"z":1.27},{"p":3,"c":"B","x":18.3,"z":1.14},{"p":3,"c":"B","x":22.5,"z":0.94},{"p":3,"c":"B","x":25.5,"z":0.72},{"p":3,"c":"B","x":27.2,"z":0.51},{"p":3,"c":"B","x":30.6,"z":0.4},{"p":3,"c":"B","x":34,"z":0.24},{"p":3,"c":"B","x":35.7,"z":0.16},{"p":3,"c":"B","x":37,"z":0.21},{"p":3,"c":"B","x":39,"z":0.47},{"p":3,"c":"B","x":40.4,"z":0.32},{"p":3,"c":"B","x":42.7,"z":0.16},{"p":3,"c":"B","x":47.6,"z":0.17},{"p":3,"c":"B","x":51.9,"z":0.14},{"p":3,"c":"B","x":53.2,"z":0.09},{"p":3,"c":"B","x":54,"z":0},
{"p":3,"c":"C","x":0,"z":0.83},{"p":3,"c":"C","x":5.1,"z":0.84},{"p":3,"c":"C","x":10.2,"z":0.88},{"p":3,"c":"C","x":13.6,"z":0.86},{"p":3,"c":"C","x":18.3,"z":0.72},{"p":3,"c":"C","x":23.4,"z":0.48},{"p":3,"c":"C","x":28.5,"z":0.27},{"p":3,"c":"C","x":34,"z":0},
{"p":3,"c":"D","x":0,"z":0.47},{"p":3,"c":"D","x":5.1,"z":0.44},{"p":3,"c":"D","x":9.8,"z":0.48},{"p":3,"c":"D","x":14,"z":0.45},{"p":3,"c":"D","x":20,"z":0.27},{"p":3,"c":"D","x":24.2,"z":0.13},{"p":3,"c":"D","x":27.8,"z":0},
{"p":3,"c":"E","x":0,"z":0.12},{"p":3,"c":"E","x":5.5,"z":0.1},{"p":3,"c":"E","x":10.6,"z":0.12},{"p":3,"c":"E","x":14.9,"z":0.08},{"p":3,"c":"E","x":18.3,"z":0},
{"p":3,"c":"F","x":42.5,"z":0.51},{"p":3,"c":"F","x":42.9,"z":0.7},{"p":3,"c":"F","x":43.8,"z":0.83},{"p":3,"c":"F","x":44.1,"z":1.04},{"p":3,"c":"F","x":45.1,"z":1.2},{"p":3,"c":"F","x":46.4,"z":1.23},{"p":3,"c":"F","x":48.1,"z":1.12},{"p":3,"c":"F","x":51.5,"z":1.07},{"p":3,"c":"F","x":52.2,"z":0.95},{"p":3,"c":"F","x":52.9,"z":0.65},{"p":3,"c":"F","x":53.2,"z":0.5},{"p":3,"c":"F","x":49.8,"z":0.48},{"p":3,"c":"F","x":45.5,"z":0.48},{"p":3,"c":"F","x":42.5,"z":0.51},
{"p":3,"c":"I","x":54.6,"z":0},{"p":3,"c":"I","x":55.2,"z":0.05},{"p":3,"c":"I","x":55.9,"z":0}
]
},
"vconcat": [
{"width": 990, "height": 311,
 "title": {"text": "pₛ = 950mb", "anchor": "start", "frame": "group", "fontSize": 21, "fontWeight": "bold", "offset": 2},
 "layer": [
  {"data": {"name": "q"},
   "mark": {"type": "point", "shape": "M0,0L2,0M1.3,-0.42L2,0L1.3,0.42", "filled": false, "stroke": "#111111", "strokeWidth": 1.15, "opacity": 1},
   "encoding": {
    "x": {"field": "x", "type": "quantitative", "scale": {"domain": [0, 100], "nice": false}, "axis": {"values": [0, 25, 50, 75, 100], "title": "x (km)"}},
    "y": {"field": "z", "type": "quantitative", "scale": {"domain": [0, 5], "nice": false}, "axis": {"values": [0, 1, 2, 3, 4, 5], "format": "d", "title": "Height (km)"}},
    "size": {"field": "s", "type": "quantitative", "scale": {"type": "pow", "exponent": 2, "domain": [0, 15], "range": [0, 290]}, "legend": null},
    "angle": {"field": "d", "type": "quantitative", "scale": {"domain": [0, 360], "range": [0, 360]}, "legend": null}}},
  {"data": {"name": "c"}, "transform": [{"filter": "datum.p == 1"}],
   "mark": {"type": "line", "color": "#0000ff", "strokeWidth": 2.5, "interpolate": "catmull-rom", "clip": true},
   "encoding": {"x": {"field": "x", "type": "quantitative"}, "y": {"field": "z", "type": "quantitative"}, "detail": {"field": "c"}, "order": {"value": null}}}
 ]},
{"width": 990, "height": 311,
 "title": {"text": "pₛ = 1000mb", "anchor": "start", "frame": "group", "fontSize": 21, "fontWeight": "bold", "offset": 2},
 "layer": [
  {"data": {"name": "q"},
   "mark": {"type": "point", "shape": "M0,0L2,0M1.3,-0.42L2,0L1.3,0.42", "filled": false, "stroke": "#111111", "strokeWidth": 1.15, "opacity": 1},
   "encoding": {
    "x": {"field": "x", "type": "quantitative", "scale": {"domain": [0, 100], "nice": false}, "axis": {"values": [0, 25, 50, 75, 100], "title": "x (km)"}},
    "y": {"field": "z", "type": "quantitative", "scale": {"domain": [0, 5], "nice": false}, "axis": {"values": [0, 1, 2, 3, 4, 5], "format": "d", "title": "Height (km)"}},
    "size": {"field": "s", "type": "quantitative", "scale": {"type": "pow", "exponent": 2, "domain": [0, 15], "range": [0, 290]}, "legend": null},
    "angle": {"field": "d", "type": "quantitative", "scale": {"domain": [0, 360], "range": [0, 360]}, "legend": null}}},
  {"data": {"name": "c"}, "transform": [{"filter": "datum.p == 2"}],
   "mark": {"type": "line", "color": "#0000ff", "strokeWidth": 2.5, "interpolate": "catmull-rom", "clip": true},
   "encoding": {"x": {"field": "x", "type": "quantitative"}, "y": {"field": "z", "type": "quantitative"}, "detail": {"field": "c"}, "order": {"value": null}}}
 ]},
{"width": 990, "height": 311,
 "title": {"text": "pₛ = 1050mb", "anchor": "start", "frame": "group", "fontSize": 21, "fontWeight": "bold", "offset": 2},
 "layer": [
  {"data": {"name": "q"},
   "mark": {"type": "point", "shape": "M0,0L2,0M1.3,-0.42L2,0L1.3,0.42", "filled": false, "stroke": "#111111", "strokeWidth": 1.15, "opacity": 1},
   "encoding": {
    "x": {"field": "x", "type": "quantitative", "scale": {"domain": [0, 100], "nice": false}, "axis": {"values": [0, 25, 50, 75, 100], "title": "x (km)"}},
    "y": {"field": "z", "type": "quantitative", "scale": {"domain": [0, 5], "nice": false}, "axis": {"values": [0, 1, 2, 3, 4, 5], "format": "d", "title": "Height (km)"}},
    "size": {"field": "s", "type": "quantitative", "scale": {"type": "pow", "exponent": 2, "domain": [0, 15], "range": [0, 290]}, "legend": null},
    "angle": {"field": "d", "type": "quantitative", "scale": {"domain": [0, 360], "range": [0, 360]}, "legend": null}}},
  {"data": {"name": "c"}, "transform": [{"filter": "datum.p == 3"}],
   "mark": {"type": "line", "color": "#0000ff", "strokeWidth": 2.5, "interpolate": "catmull-rom", "clip": true},
   "encoding": {"x": {"field": "x", "type": "quantitative"}, "y": {"field": "z", "type": "quantitative"}, "detail": {"field": "c"}, "order": {"value": null}}}
 ]}
]
}
